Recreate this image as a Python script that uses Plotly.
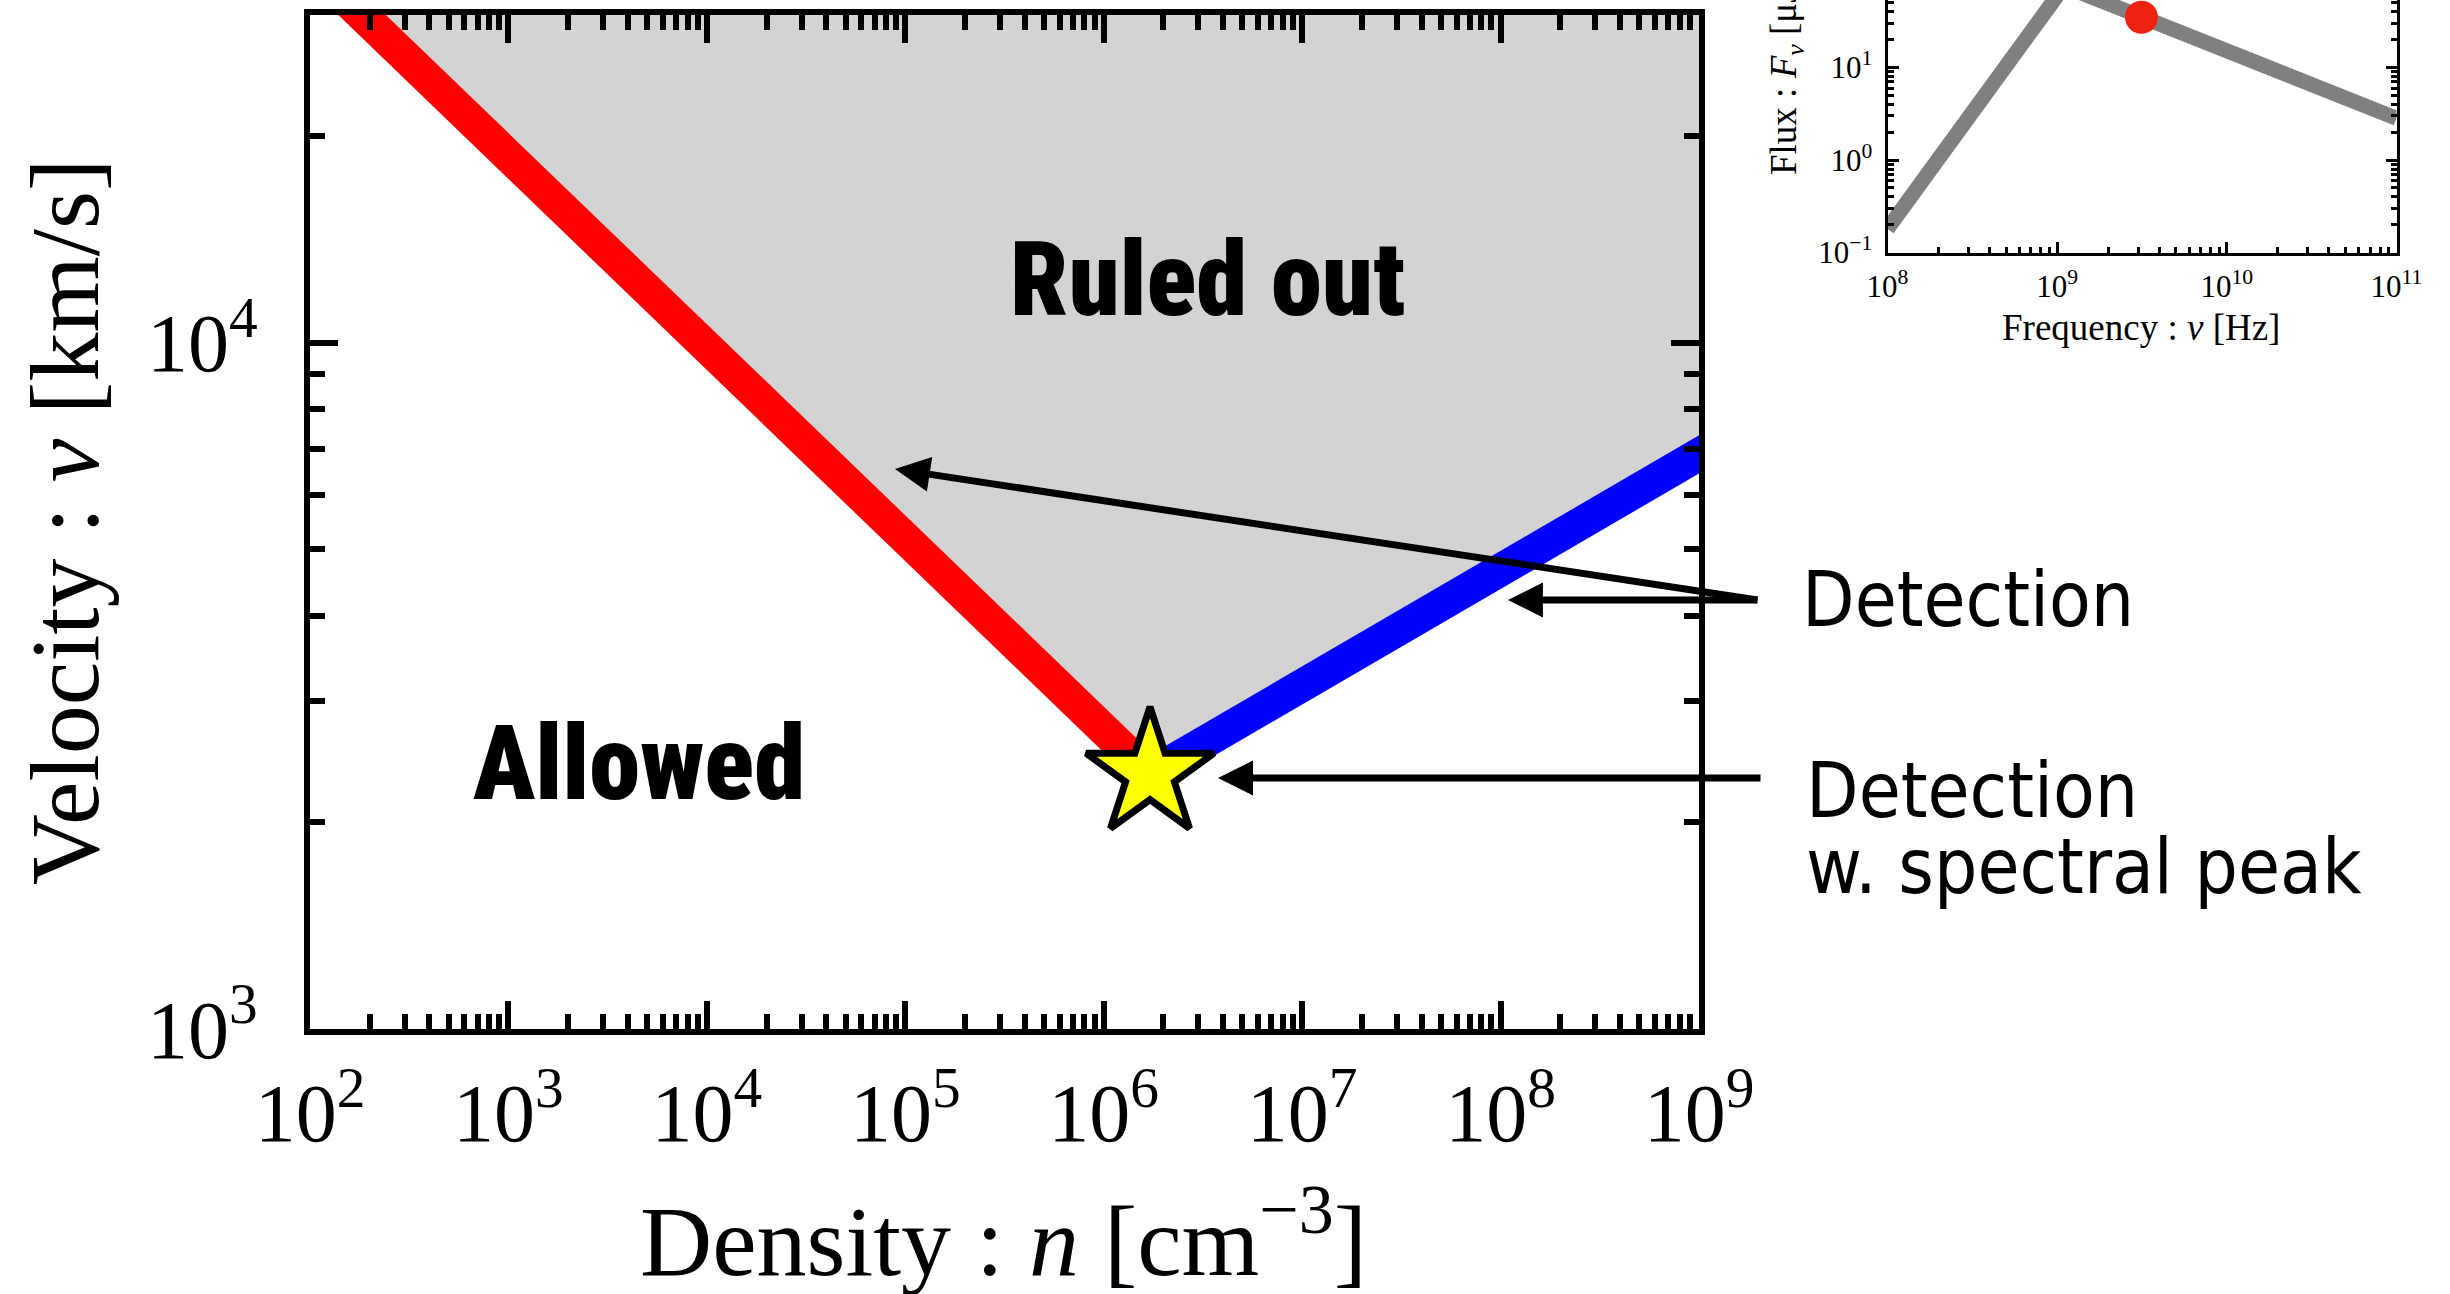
import plotly.graph_objects as go

W, H = 2450, 1294

# ---------------- data: main panel ----------------
red_density = [1.0e2, 1.711e6]
red_velocity = [3.55e4, 2352]
blue_density = [1.711e6, 2.0e9]
blue_velocity = [2352, 7720]
ruled_density = [1.0e2, 1.711e6, 2.0e9, 2.0e9]
ruled_velocity = [3.55e4, 2352, 7720, 3.55e4]
star_density = [1.711e6]
star_velocity = [2352]

x_tickvals = [1e2, 1e3, 1e4, 1e5, 1e6, 1e7, 1e8, 1e9]
x_ticktext = ["10<sup>%d</sup>" % e for e in range(2, 10)]
y_tickvals = [1e3, 1e4]
y_ticktext = ["10<sup>3</sup>", "10<sup>4</sup>"]

# ---------------- data: inset spectrum ----------------
spec_freq = [1.0e8, 1.1e9, 1.0e11]
spec_flux = [0.18, 76, 2.83]
obs_freq = [3.14e9]
obs_flux = [35]

ix_tickvals = [1e8, 1e9, 1e10, 1e11]
ix_ticktext = ["10<sup>8</sup>", "10<sup>9</sup>", "10<sup>10</sup>", "10<sup>11</sup>"]
iy_tickvals = [1e-1, 1e0, 1e1, 1e2]
iy_ticktext = ["10<sup>\u22121</sup>", "10<sup>0</sup>", "10<sup>1</sup>", "10<sup>2</sup>"]


def fx(px):
    return px / W


def fy(py):
    return 1 - py / H


SERIF = "Liberation Serif, Times New Roman, serif"
HEAVY = "Roboto Condensed, Roboto, DejaVu Sans Condensed, sans-serif"
COND = "DejaVu Sans Condensed, Liberation Sans Narrow, sans-serif"

fig = go.Figure()

# shaded excluded region
fig.add_trace(go.Scatter(x=ruled_density, y=ruled_velocity, fill="toself",
                         fillcolor="#d3d3d3", line=dict(width=0), mode="lines",
                         hoverinfo="skip", showlegend=False, xaxis="x", yaxis="y"))
fig.add_trace(go.Scatter(x=red_density, y=red_velocity, mode="lines",
                         line=dict(color="#ff0000", width=33), showlegend=False,
                         xaxis="x", yaxis="y"))
fig.add_trace(go.Scatter(x=blue_density, y=blue_velocity, mode="lines",
                         line=dict(color="#0000ff", width=33), showlegend=False,
                         xaxis="x", yaxis="y"))
fig.add_trace(go.Scatter(x=star_density, y=star_velocity, mode="markers",
                         marker=dict(symbol="star", size=96, color="#ffff00",
                                     line=dict(color="black", width=7)),
                         showlegend=False, xaxis="x", yaxis="y"))

# inset
fig.add_trace(go.Scatter(x=spec_freq, y=spec_flux, mode="lines",
                         line=dict(color="#808080", width=15), showlegend=False,
                         xaxis="x2", yaxis="y2"))
fig.add_trace(go.Scatter(x=obs_freq, y=obs_flux, mode="markers",
                         marker=dict(size=33, color="#ee2211"), showlegend=False,
                         xaxis="x2", yaxis="y2"))

x_minor = [m * 10 ** e for e in range(2, 9) for m in range(2, 10)]
y_minor = [m * 10 ** e for e in range(3, 5) for m in range(2, 10)]
ix_minor = [m * 10 ** e for e in range(8, 11) for m in range(2, 10)]
iy_minor = [m * 10.0 ** e for e in range(-1, 3) for m in range(2, 10)]

main_axis = dict(type="log", showline=True, linecolor="black", linewidth=6,
                 mirror="ticks", ticks="inside", ticklen=28, tickwidth=6,
                 tickcolor="black", showgrid=False, zeroline=False,
                 automargin=False,
                 tickfont=dict(family=SERIF, size=82, color="black"),
                 tickmode="array")

fig.update_layout(
    width=W, height=H, autosize=False,
    margin=dict(l=0, r=0, t=0, b=0, pad=0),
    paper_bgcolor="white", plot_bgcolor="white",
    xaxis=dict(main_axis, domain=[fx(310), fx(1699)], range=[2, 9],
               tickvals=x_tickvals, ticktext=x_ticktext, anchor="y",
               ticklabelstandoff=8,
               minor=dict(tickmode="array", tickvals=x_minor, ticks="inside",
                          ticklen=15, tickwidth=6, tickcolor="black", showgrid=False)),
    yaxis=dict(main_axis, domain=[fy(1029), fy(15)], range=[3, 4.4771],
               tickvals=y_tickvals, ticktext=y_ticktext, anchor="x",
               ticklabelstandoff=30,
               minor=dict(tickmode="array", tickvals=y_minor, ticks="inside",
                          ticklen=15, tickwidth=6, tickcolor="black", showgrid=False)),
    xaxis2=dict(type="log", domain=[fx(1887.5), fx(2396.5)], range=[8, 11],
                anchor="y2", showline=True, linecolor="black", linewidth=3,
                mirror=False, ticks="inside", ticklen=11, tickwidth=2.5,
                tickcolor="black", showgrid=False, zeroline=False,
                automargin=False,
                tickmode="array", tickvals=ix_tickvals, ticktext=ix_ticktext,
                tickfont=dict(family=SERIF, size=31, color="black"),
                ticklabelstandoff=4,
                minor=dict(tickmode="array", tickvals=ix_minor, ticks="inside",
                           ticklen=6, tickwidth=2.5, tickcolor="black", showgrid=False)),
    yaxis2=dict(type="log", domain=[fy(252.5), 1.0], range=[-1, 1.731],
                anchor="x2", showline=True, linecolor="black", linewidth=3,
                mirror="ticks", ticks="inside", ticklen=11, tickwidth=2.5,
                tickcolor="black", showgrid=False, zeroline=False,
                automargin=False,
                tickmode="array", tickvals=iy_tickvals, ticktext=iy_ticktext,
                tickfont=dict(family=SERIF, size=31, color="black"),
                ticklabelstandoff=6,
                minor=dict(tickmode="array", tickvals=iy_minor, ticks="inside",
                           ticklen=6, tickwidth=2.5, tickcolor="black", showgrid=False)),
)

ann = []
# axis titles
ann.append(dict(text="Velocity : <i>v</i> [km/s]", xref="paper", yref="paper",
                x=fx(65), y=fy(522), textangle=-90, showarrow=False,
                xanchor="center", yanchor="middle",
                font=dict(family=SERIF, size=98, color="black")))
ann.append(dict(text="Density : <i>n</i> [cm<sup>\u22123</sup>]", xref="paper", yref="paper",
                x=fx(1004), y=fy(1234), showarrow=False,
                xanchor="center", yanchor="middle",
                font=dict(family=SERIF, size=100, color="black")))
ann.append(dict(text="Frequency : <i>\u03bd</i> [Hz]", xref="paper", yref="paper",
                x=fx(2141), y=fy(328), showarrow=False,
                xanchor="center", yanchor="middle",
                font=dict(family=SERIF, size=37, color="black")))
ann.append(dict(text="Flux : <i>F</i><sub><i>\u03bd</i></sub> [\u03bcJy]", xref="paper", yref="paper",
                x=fx(1787), y=fy(67), textangle=-90, showarrow=False,
                xanchor="center", yanchor="middle",
                font=dict(family=SERIF, size=37, color="black")))

# region labels
ann.append(dict(text="Ruled out", xref="paper", yref="paper",
                x=fx(1207), y=fy(280), showarrow=False,
                xanchor="center", yanchor="middle",
                font=dict(family=HEAVY, size=103, color="black", weight=900)))
ann.append(dict(text="Allowed", xref="paper", yref="paper",
                x=fx(639), y=fy(763), showarrow=False,
                xanchor="center", yanchor="middle",
                font=dict(family=HEAVY, size=103, color="black", weight=900)))

# side labels
ann.append(dict(text="Detection", xref="paper", yref="paper",
                x=fx(1800), y=fy(600), showarrow=False,
                xanchor="left", yanchor="middle",
                font=dict(family=COND, size=76, color="black")))
ann.append(dict(text="Detection", xref="paper", yref="paper",
                x=fx(1804), y=fy(790), showarrow=False,
                xanchor="left", yanchor="middle",
                font=dict(family=COND, size=76, color="black")))
ann.append(dict(text="w. spectral peak", xref="paper", yref="paper",
                x=fx(1804), y=fy(866), showarrow=False,
                xanchor="left", yanchor="middle",
                font=dict(family=COND, size=76, color="black")))

# arrows (tip in data coordinates, tail offset in pixels)
arrow_style = dict(text="", showarrow=True, arrowhead=2, arrowsize=1,
                   arrowwidth=7, arrowcolor="black", xref="x", yref="y",
                   axref="pixel", ayref="pixel", borderpad=0, standoff=0,
                   font=dict(size=1))
ann.append(dict(arrow_style, x=4.948, y=3.8157, ax=863, ay=131))
ann.append(dict(arrow_style, x=8.037, y=3.6249, ax=250, ay=0))
ann.append(dict(arrow_style, x=6.576, y=3.3656, ax=543, ay=0))

fig.update_layout(annotations=ann)

fig.write_html("out.html")
